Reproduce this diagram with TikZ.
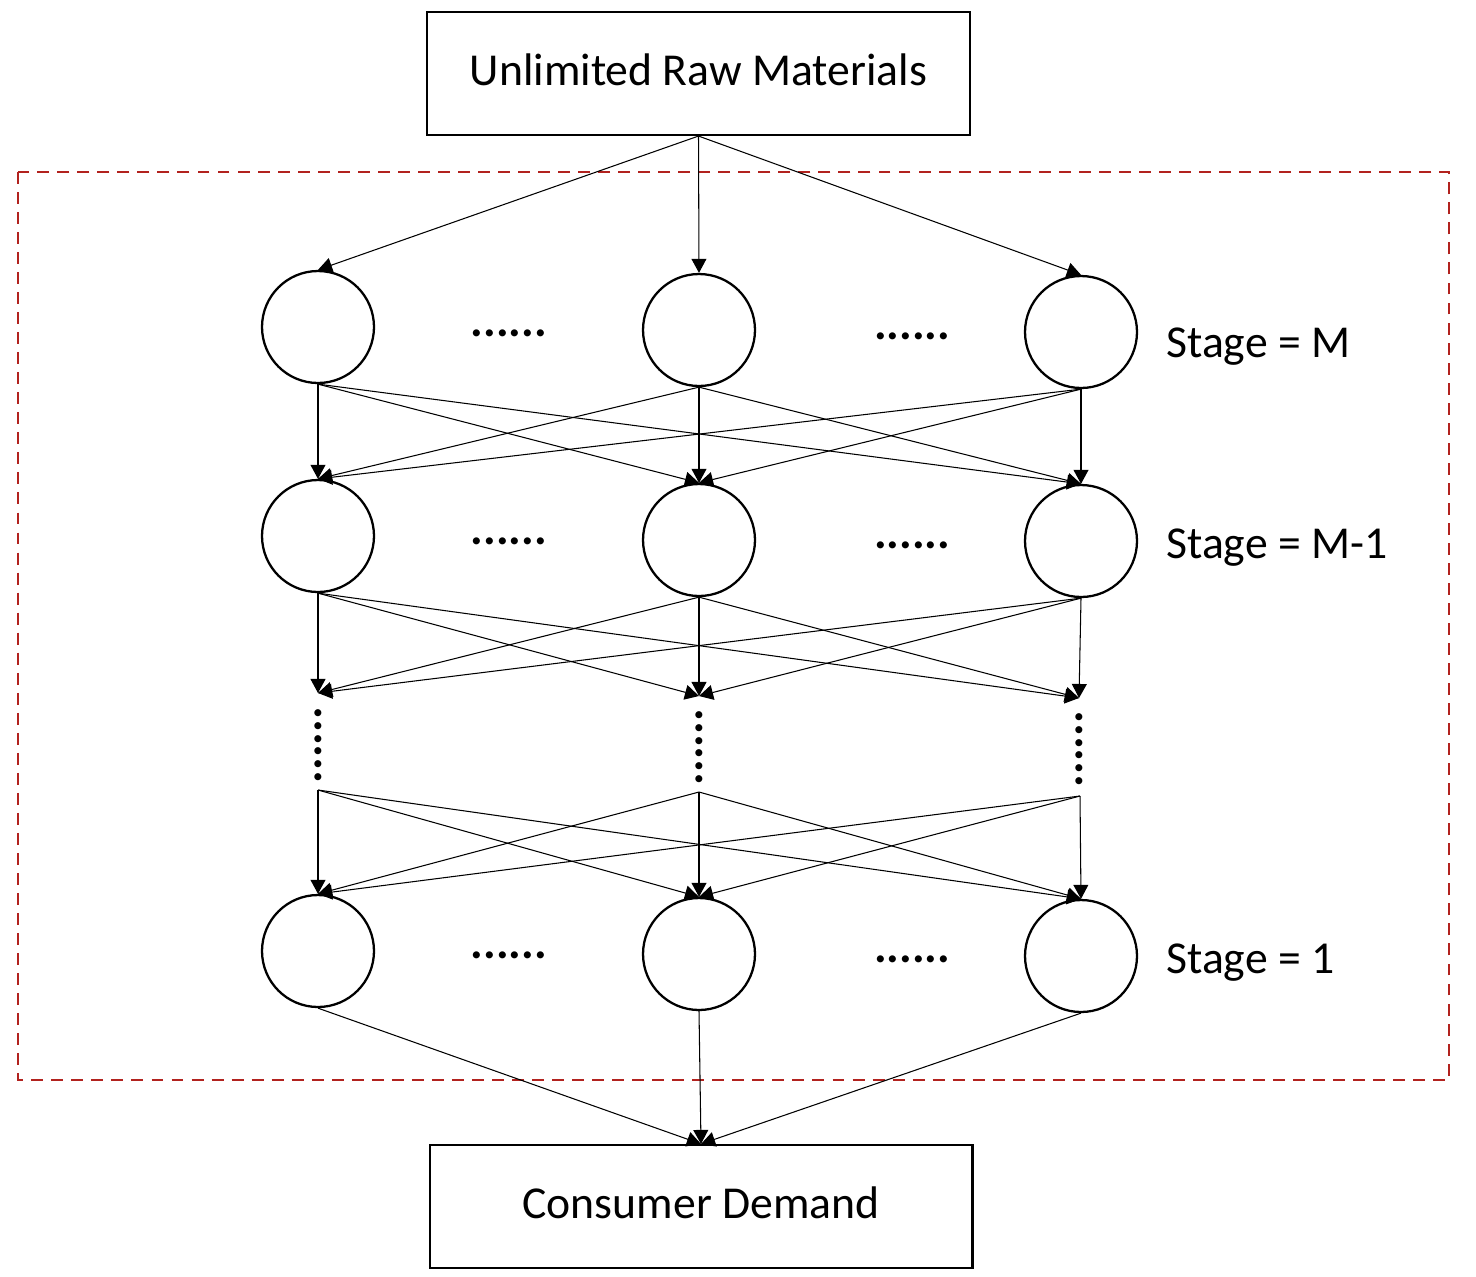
\documentclass[tikz,border=0pt]{standalone}
\usepackage{fontspec}
\setmainfont{Carlito}
\usetikzlibrary{arrows.meta}
\definecolor{dashred}{RGB}{178,34,30}
\begin{document}
\begin{tikzpicture}[x=0.02cm,y=-0.02cm,
  stagenode/.style={circle,draw,line width=1.3pt,minimum size=2.24cm,inner sep=0pt},
  boxnode/.style={rectangle,draw,line width=1.2pt,minimum width=10.86cm,minimum height=2.46cm,inner sep=0pt,text depth=4.2pt,font=\fontsize{26}{31}\selectfont},
  lbl/.style={anchor=base west,inner sep=0pt,font=\fontsize{26}{31}\selectfont},
  hdots/.style={inner sep=0pt,font=\fontsize{27}{31}\selectfont\bfseries},
  vdots/.style={hdots,rotate=90},
  conn/.style={line width=0.6pt,-{Triangle[length=8pt,width=8.5pt]}},
  framebox/.style={draw=dashred,line width=1.3pt,dash pattern=on 6.8pt off 4.6pt}
]
\useasboundingbox (0,0) rectangle (1476,1276);

% frame
\draw[framebox] (18,172) rectangle (1449,1080);

% boxes
\node[boxnode] (raw) at (698.5,73.5) {Unlimited Raw Materials};
\node[boxnode] (dem) at (701,1206.5) {Consumer Demand};

% stage M
\node[stagenode] (mL) at (318,327) {};
\node[stagenode] (mC) at (699,330) {};
\node[stagenode] (mR) at (1081,332) {};
% stage M-1
\node[stagenode] (nL) at (318,536) {};
\node[stagenode] (nC) at (699,540) {};
\node[stagenode] (nR) at (1081,541) {};
% stage 1
\node[stagenode] (sL) at (318,951) {};
\node[stagenode] (sC) at (699,954) {};
\node[stagenode] (sR) at (1081,956) {};

% horizontal dots
\node[hdots] (hd1) at (509,333) {......};
\node[hdots] (hd2) at (912,336) {......};
\node[hdots] (hd3) at (509,541) {......};
\node[hdots] (hd4) at (912,545) {......};
\node[hdots] (hd5) at (509,955) {......};
\node[hdots] (hd6) at (912,959) {......};

% vertical dots
\node[vdots] (vd1) at (318,745) {......};
\node[vdots] (vd2) at (699,747) {......};
\node[vdots] (vd3) at (1079,749) {......};

% intermediate coordinates
\coordinate (tL) at (318,693);
\coordinate (tC) at (699,696);
\coordinate (tR) at (1079,698);
\coordinate (bL) at (318,790);
\coordinate (bC) at (699,792);
\coordinate (bR) at (1080,796);

% labels
\node[lbl] (lab1) at (1166,357) {Stage = M};
\node[lbl] (lab2) at (1166,558) {Stage = M-1};
\node[lbl] (lab3) at (1166,973) {Stage = 1};

% connectors
\foreach \b in {mL,mC,mR} \draw[conn] (raw.south) -- (\b.north);
\foreach \a in {mL,mC,mR} \foreach \b in {nL,nC,nR} \draw[conn] (\a.south) -- (\b.north);
\foreach \a in {nL,nC,nR} \foreach \b in {tL,tC,tR} \draw[conn] (\a.south) -- (\b);
\foreach \a in {bL,bC,bR} \foreach \b in {sL,sC,sR} \draw[conn] (\a) -- (\b.north);
\foreach \a in {sL,sC,sR} \draw[conn] (\a.south) -- (dem.north);
\end{tikzpicture}
\end{document}
